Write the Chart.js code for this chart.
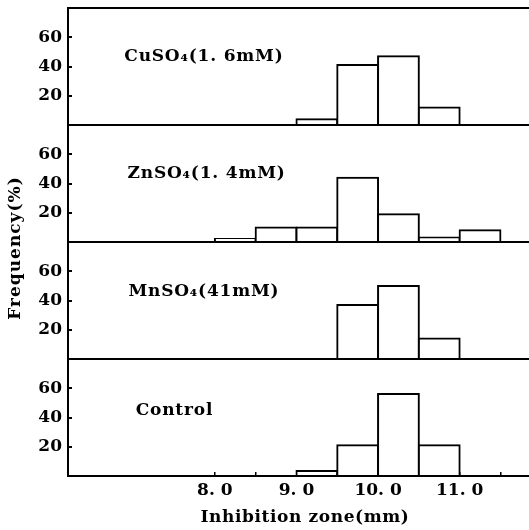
<!DOCTYPE html>
<html>
<head>
<meta charset="utf-8">
<script src="https://cdn.jsdelivr.net/npm/chart.js@4.4.1/dist/chart.umd.min.js"></script>
<style>
  html, body { margin: 0; padding: 0; background: #fff; }
  #wrap { width: 529px; height: 530px; }
</style>
</head>
<body>
<div id="wrap"><canvas id="grafica"></canvas></div>
<script>
// === DATOS (frecuencia % por intervalo de 0.5 mm) ===
const binCenters = [8.25, 8.75, 9.25, 9.75, 10.25, 10.75, 11.25];
const cuso4   = [0, 0, 4, 41, 47, 12, 0];
const znso4   = [2, 10, 10, 44, 19, 3, 8];
const mnso4   = [0, 0, 0, 37, 50, 14, 0];
const control = [0, 0, 3.5, 21, 56, 21, 0];

const panelNames  = ['CuSO₄(1. 6mM)', 'ZnSO₄(1. 4mM)', 'MnSO₄(41mM)', 'Control'];
const panelSeries = [cuso4, znso4, mnso4, control];
const xTicks = [8.0, 8.5, 9.0, 9.5, 10.0, 10.5, 11.0, 11.5];
const yTicks = [0, 20, 40, 60, 80];
const xTitle = 'Inhibition zone(mm)';
const yTitle = 'Frequency(%)';

const fuente = '"DejaVu Serif", "Liberation Serif", serif';

// posicion de cada rotulo dentro del panel (valores de eje x, y)
const rotuloPos = [[6.89, 47], [6.93, 47], [6.94, 46], [7.03, 45]];

// Rotulos de panel y titulos de ejes
const rotulos = {
  id: 'rotulos',
  afterDraw(chart) {
    const { ctx, scales } = chart;
    ctx.save();
    ctx.fillStyle = '#000';
    ctx.letterSpacing = '0.8px';
    ctx.font = 'bold 17px ' + fuente;
    ctx.textBaseline = 'middle';
    ctx.textAlign = 'left';
    panelNames.forEach((nombre, i) => {
      const x = scales.x.getPixelForValue(rotuloPos[i][0]);
      const y = scales['y' + i].getPixelForValue(rotuloPos[i][1]);
      ctx.fillText(nombre, x, y);
    });

    // titulo eje x
    ctx.textAlign = 'center';
    ctx.letterSpacing = '0.6px';
    ctx.fillText(xTitle, 305, 518);

    // titulo eje y
    ctx.translate(16, 248);
    ctx.rotate(-Math.PI / 2);
    ctx.letterSpacing = '1px';
    ctx.fillText(yTitle, 0, 0);
    ctx.restore();
  }
};

// Escalas: la ultima declarada queda arriba en la pila
const scales = {
  x: {
    type: 'linear',
    min: 6.2,
    max: 11.85,
    offset: false,
    afterBuildTicks: s => { s.ticks = xTicks.map(v => ({ value: v })); },
    afterFit: s => { s.height = 54; s.paddingLeft = 0; s.paddingRight = 0; },
    grid: { offset: false, drawOnChartArea: false, tickLength: -4, tickColor: '#000', lineWidth: 1.5 },
    border: { display: true, color: '#000', width: 2 },
    ticks: {
      autoSkip: false,
      maxRotation: 0,
      padding: 8,
      color: '#000',
      font: { family: fuente, size: 17, weight: 'bold' },
      callback: v => (Number.isInteger(v) ? v.toFixed(1).replace('.', '. ') : '')
    }
  }
};

for (let i = panelNames.length - 1; i >= 0; i--) {
  scales['y' + i] = {
    type: 'linear',
    position: 'left',
    stack: 'paneles',
    stackWeight: 1,
    min: 0,
    max: 80,
    afterBuildTicks: s => { s.ticks = yTicks.map(v => ({ value: v })); },
    afterFit: s => { s.width = 68; s.paddingTop = 0; s.paddingBottom = 0; },
    grid: {
      lineWidth: 2,
      tickLength: -4,
      color: c => (c.tick && (c.tick.value === 0 || (i === 0 && c.tick.value === 80)) ? '#000' : 'rgba(0,0,0,0)'),
      tickColor: c => (c.tick && c.tick.value > 0 && c.tick.value < 80 ? '#000' : 'rgba(0,0,0,0)')
    },
    border: { display: true, color: '#000', width: 2 },
    ticks: {
      autoSkip: false,
      padding: 10,
      color: '#000',
      font: { family: fuente, size: 17, weight: 'bold' },
      callback: v => (v > 0 && v < 80 ? String(v) : '')
    }
  };
}

const datasets = panelSeries.map((serie, i) => ({
  label: panelNames[i],
  data: binCenters.map((x, j) => ({ x, y: serie[j] })),
  xAxisID: 'x',
  yAxisID: 'y' + i,
  backgroundColor: '#fff',
  borderColor: '#000',
  borderWidth: 2,
  borderSkipped: 'start',
  inflateAmount: 1,
  grouped: false,
  barPercentage: 1,
  categoryPercentage: 1
}));

new Chart(document.getElementById('grafica'), {
  type: 'bar',
  data: { datasets },
  options: {
    responsive: true,
    maintainAspectRatio: false,
    animation: false,
    layout: { padding: { top: 8, left: 0, right: 0, bottom: 0 } },
    plugins: { legend: { display: false }, tooltip: { enabled: false }, title: { display: false } },
    scales
  },
  plugins: [rotulos]
});
</script>
</body>
</html>
